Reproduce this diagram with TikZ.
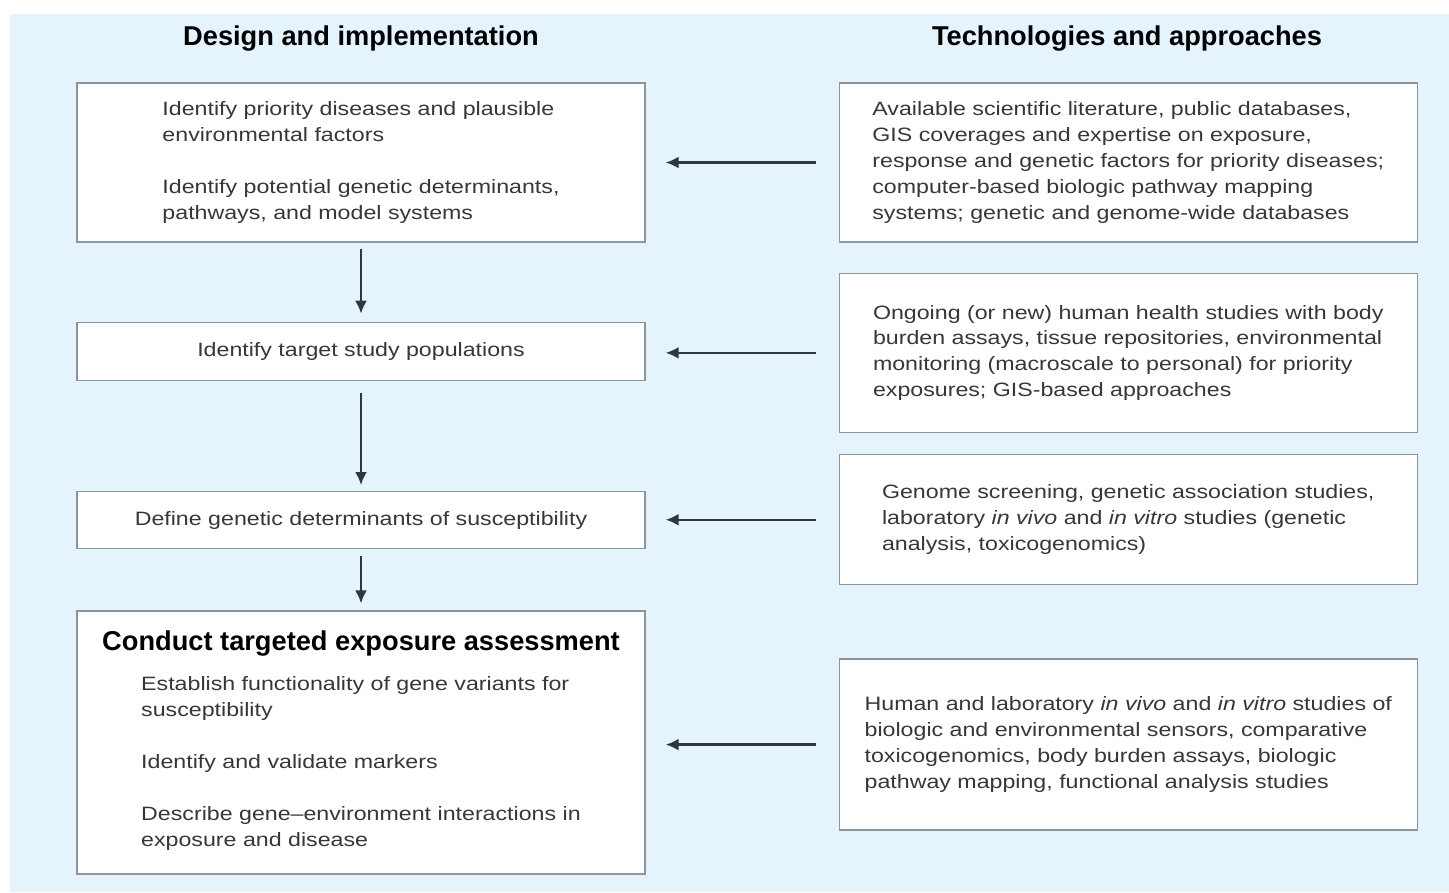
\documentclass[tikz,border=0pt]{standalone}
\usepackage{fontspec}
\setmainfont{Liberation Sans}[FakeStretch=1.2]
\newfontfamily\headfont{Liberation Sans}
\usepackage{tikz}
\usetikzlibrary{
  arrows.meta,
  positioning
}
\definecolor{PanelBlue}{RGB}{229,243,252}
\definecolor{BoxLine}{RGB}{140,148,158}
\definecolor{ArrowSlate}{RGB}{44,54,68}
\definecolor{TextGray}{RGB}{55,55,55}
\tikzset{
  headnode/.style={font=\headfont\bfseries\fontsize{15.5}{18}\selectfont,text=black},
  designbox/.style={draw=BoxLine,line width=0.8pt,fill=white,minimum width=11.36cm,align=left,font=\fontsize{11}{14.74}\selectfont,text=TextGray},
  techbox/.style={draw=BoxLine,line width=0.8pt,fill=white,minimum width=11.56cm,align=left,font=\fontsize{11}{14.74}\selectfont,text=TextGray},
  flowarrow/.style={-{Latex[length=2.6mm,width=2.4mm]},line width=1.4pt,draw=ArrowSlate}
}

\begin{document}
\begin{tikzpicture}[x=0.02cm,y=-0.02cm]
\useasboundingbox (0,0) rectangle (1449,892);
\fill[PanelBlue] (10,14) rectangle (1449,892);
% column headings
\node[headnode] (designhead) at (361,39) {Design and implementation};
\node[headnode] (techhead) at (1127,39) {Technologies and approaches};
% design and implementation
\node[designbox,minimum height=3.18cm] (priority) at (361,162.5) {Identify priority diseases and plausible\\ environmental factors\\[14.74pt] Identify potential genetic determinants,\\ pathways, and model systems};
\node[designbox,minimum height=1.16cm,below=1.58cm of priority] (population) {Identify target study populations};
\node[designbox,minimum height=1.14cm,below=2.2cm of population] (susceptible) {Define genetic determinants of susceptibility};
\node[designbox,minimum height=5.26cm,below=1.22cm of susceptible,align=center] (assess) {{\headfont\bfseries\fontsize{15.5}{18}\selectfont\color{black}Conduct targeted exposure assessment}\\[8pt]
  \begin{tabular}[t]{@{}l@{}}
  Establish functionality of gene variants for\\ susceptibility\\[14.74pt]
  Identify and validate markers\\[14.74pt]
  Describe gene--environment interactions in\\ exposure and disease
  \end{tabular}};
% technologies and approaches
\node[techbox,minimum height=3.18cm,right=3.86cm of priority] (literature) {Available scientific literature, public databases,\\ GIS coverages and expertise on exposure,\\ response and genetic factors for priority diseases;\\ computer-based biologic pathway mapping\\ systems; genetic and genome-wide databases};
\node[techbox,minimum height=3.18cm,below=0.6cm of literature] (cohort) {Ongoing (or new) human health studies with body\\ burden assays, tissue repositories, environmental\\ monitoring (macroscale to personal) for priority\\ exposures; GIS-based approaches};
\node[techbox,minimum height=2.6cm,below=0.42cm of cohort] (genome) {Genome screening, genetic association studies,\\ laboratory \textit{in vivo} and \textit{in vitro} studies (genetic\\ analysis, toxicogenomics)};
\node[techbox,minimum height=3.42cm,below=1.46cm of genome] (sensors) {Human and laboratory \textit{in vivo} and \textit{in vitro} studies of\\ biologic and environmental sensors, comparative\\ toxicogenomics, body burden assays, biologic\\ pathway mapping, functional analysis studies};
% arrows
\draw[flowarrow,shorten <=0.12cm,shorten >=0.16cm] (priority) -- (population);
\draw[flowarrow,shorten <=0.24cm,shorten >=0.12cm] (population) -- (susceptible);
\draw[flowarrow,shorten <=0.14cm,shorten >=0.14cm] (susceptible) -- (assess);
\foreach \src/\dst in {literature/priority,cohort/population,genome/susceptible,sensors/assess}
  \draw[flowarrow,shorten <=0.46cm,shorten >=0.4cm] (\src.west) -- (\dst.east |- \src.west);
\end{tikzpicture}
\end{document}
